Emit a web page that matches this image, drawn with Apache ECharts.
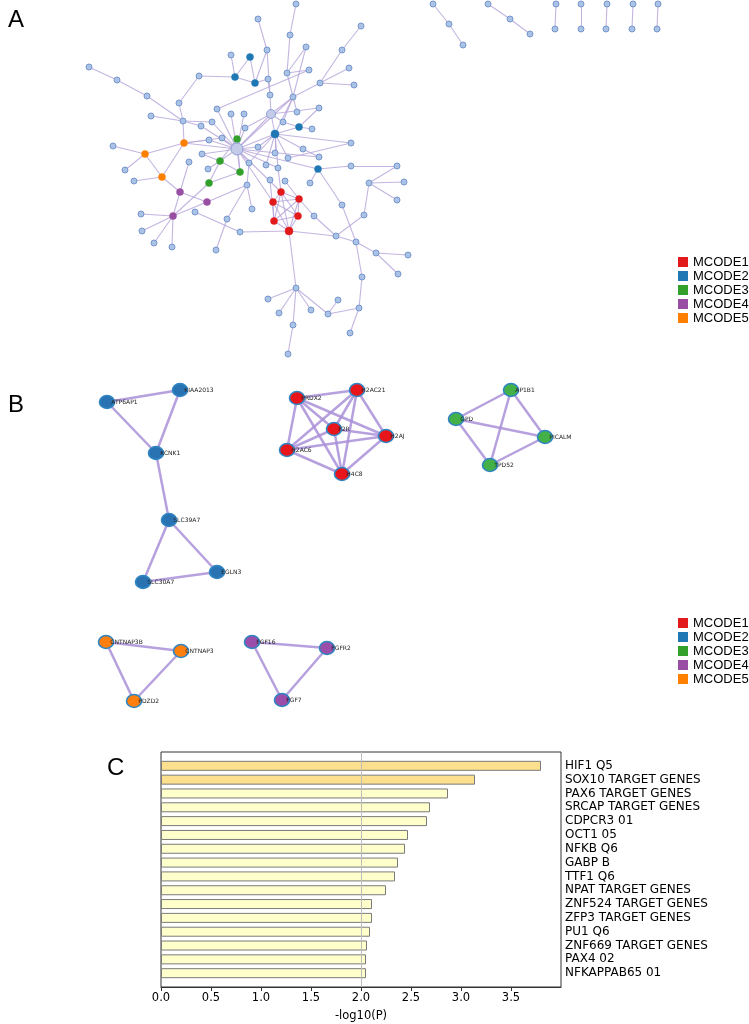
<!DOCTYPE html>
<html><head><meta charset="utf-8">
<script src="https://cdn.jsdelivr.net/npm/echarts@6/dist/echarts.min.js"></script>
<style>html,body{margin:0;padding:0;background:#fff}#c{width:749px;height:1024px}</style>
</head><body><div id="c"></div>
<script>
// ---------- Panel A: network (layout positions in picture units) ----------
const aNodes = [
 [296,4],[258,19],[361,26],[290,35],[231,55],[250,57],[267,50],[306,47],[342,50],[89,67],
 [117,80],[199,76],[235,77],[255,83],[287,73],[309,70],[349,68],[268,79],[320,83],[354,85],
 [147,96],[179,103],[270,95],[293,97],[151,116],[217,109],[231,114],[244,114],[271,114],[297,112],
 [319,108],[183,121],[212,122],[201,126],[283,122],[245,128],[299,127],[312,129],[222,138],[237,139],
 [209,140],[275,134],[113,146],[184,143],[237,149],[258,147],[351,143],[303,149],[145,154],[202,154],
 [275,153],[288,158],[319,157],[220,161],[189,162],[249,163],[266,165],[278,168],[240,172],[318,169],
 [351,166],[397,166],[125,170],[208,169],[162,177],[134,181],[209,183],[270,180],[285,181],[310,183],
 [369,183],[404,182],[247,185],[180,192],[281,192],[273,202],[299,199],[342,205],[397,200],[207,202],
 [252,209],[141,214],[173,216],[195,212],[274,221],[298,216],[314,216],[364,215],[227,219],[289,231],
 [240,232],[142,231],[154,243],[172,247],[216,250],[336,236],[356,242],[376,253],[408,255],[398,274],
 [362,277],[296,288],[268,299],[338,300],[279,313],[311,310],[328,314],[359,308],[293,325],[350,333],
 [288,354],
 [433,4],[449,24],[463,45],[488,4],[510,19],[530,34],
 [556,4],[555,29],[581,4],[581,29],[607,4],[606,29],[633,4],[632,29],[658,4],[657,29]
];
const aEdges = [
 [10,11],[11,21],[21,32],[12,22],[22,32],[12,13],[5,13],[6,13],[6,14],[13,14],[14,18],[2,7],[7,14],[7,23],
 [1,4],[4,15],[15,8],[15,16],[15,24],[3,9],[9,19],[17,19],[20,19],[19,24],[18,23],[23,29],[24,29],[24,42],
 [24,45],[24,35],[29,42],[29,45],[29,36],[30,24],[31,37],[37,38],[37,35],[37,42],[42,45],[42,51],[42,52],
 [42,48],[42,56],[45,26],[45,27],[45,28],[45,33],[45,34],[45,39],[45,40],[45,41],[45,46],[45,50],[45,36],
 [45,44],[45,54],[45,59],[45,56],[45,58],[32,34],[32,44],[32,33],[25,32],[44,49],[44,65],[49,65],[43,49],
 [49,63],[65,66],[65,74],[74,55],[74,80],[74,83],[80,83],[80,73],[83,82],[83,92],[83,93],[83,94],[83,67],
 [40,54],[40,59],[54,59],[54,67],[59,67],[84,91],[91,90],[89,95],[89,73],[81,73],[73,56],[47,52],[53,48],
 [45,53],[42,47],[60,61],[60,45],[60,70],[60,78],[78,97],[62,71],[71,72],[71,79],[71,88],[88,96],[96,90],
 [96,97],[87,77],[87,96],[97,98],[98,99],[98,100],[97,101],[101,108],[108,110],[107,108],[102,107],[104,107],
 [102,103],[102,105],[102,106],[102,109],[109,111],[102,90],[61,62],[44,41],[44,39],[64,54],[57,42],[58,42],
 [75,76],[75,77],[75,85],[75,86],[75,90],[76,77],[76,85],[76,86],[76,90],[77,85],[77,86],[77,90],[85,86],
 [85,90],[86,90],[45,75],[45,76],[58,75],[69,77],[68,85],[35,29],[8,24],[16,26],[31,29],[46,42],[50,54],
 [112,113],[113,114],[115,116],[116,117],[118,119],[120,121],[122,123],[124,125],[126,127]
];
const aMCODE1 = [75,76,77,85,86,90];
const aMCODE2 = [6,13,14,37,42,60];
const aMCODE3 = [40,54,59,67];
const aMCODE4 = [74,80,83];
const aMCODE5 = [44,49,65];
const aHubs = {45: 12, 29: 9, 42: 8, 90: 8};

// ---------- Panel B: MCODE clusters ----------
const bNames = ['ATP6AP1','KIAA2013','KCNK1','SLC39A7','EGLN3','SLC30A7',
 'PRDX2','H2AC21','F2R','H2AJ','H2AC6','H4C8',
 'AP1B1','GPD','PICALM','TPD52',
 'CNTNAP3B','CNTNAP3','PDZD2',
 'FGF16','FGFR2','FGF7'];
const bPos = [[107,402],[180,390],[156,453],[169,520],[217,572],[143,582],
 [297,398],[357,390],[334,429],[386,436],[287,450],[342,474],
 [511,390],[456,419],[545,437],[490,465],
 [106,642],[181,651],[134,701],
 [252,642],[327,648],[282,700]];
const bCluster = [2,2,2,2,2,2, 1,1,1,1,1,1, 3,3,3,3, 5,5,5, 4,4,4];
const bEdges = [
 ['ATP6AP1','KIAA2013'],['ATP6AP1','KCNK1'],['KIAA2013','KCNK1'],['KCNK1','SLC39A7'],
 ['SLC39A7','SLC30A7'],['SLC39A7','EGLN3'],['SLC30A7','EGLN3'],
 ['PRDX2','H2AC21'],['PRDX2','F2R'],['PRDX2','H2AJ'],['PRDX2','H2AC6'],['PRDX2','H4C8'],
 ['H2AC21','F2R'],['H2AC21','H2AJ'],['H2AC21','H2AC6'],['H2AC21','H4C8'],
 ['F2R','H2AJ'],['F2R','H2AC6'],['F2R','H4C8'],['H2AJ','H2AC6'],['H2AJ','H4C8'],['H2AC6','H4C8'],
 ['AP1B1','GPD'],['AP1B1','PICALM'],['AP1B1','TPD52'],['GPD','PICALM'],['GPD','TPD52'],['PICALM','TPD52'],
 ['CNTNAP3B','CNTNAP3'],['CNTNAP3B','PDZD2'],['CNTNAP3','PDZD2'],
 ['FGF16','FGFR2'],['FGF16','FGF7'],['FGFR2','FGF7']
];
const mcodeNames = ['MCODE1','MCODE2','MCODE3','MCODE4','MCODE5'];
const mcodeColors = ['#e31a1c','#1f78b4','#33a02c','#984ea3','#ff7f00'];
const bFill = ['#e8161b','#2a73b3','#44b048','#9b4ea9','#ff7f0e'];

// ---------- Panel C: enrichment bars ----------
const termLabels = ['HIF1 Q5','SOX10 TARGET GENES','PAX6 TARGET GENES','SRCAP TARGET GENES','CDPCR3 01',
 'OCT1 05','NFKB Q6','GABP B','TTF1 Q6','NPAT TARGET GENES','ZNF524 TARGET GENES','ZFP3 TARGET GENES',
 'PU1 Q6','ZNF669 TARGET GENES','PAX4 02','NFKAPPAB65 01'];
const termValues = [3.80,3.14,2.87,2.69,2.66,2.47,2.44,2.37,2.34,2.25,2.11,2.11,2.09,2.06,2.05,2.05];
const xTickStep = 0.5;

// ---------- build ----------
function groupOf(i){
  const lists=[aMCODE1,aMCODE2,aMCODE3,aMCODE4,aMCODE5];
  for(let g=0;g<5;g++) if(lists[g].includes(i)) return g+1;
  return 0;
}
const aData = aNodes.map((p,k)=>{
  const id=k+1, g=groupOf(id);
  const item={name:'a'+id, value:p, category:g, symbolSize: aHubs[id] || (g?7:6)};
  if(id===45||id===29) item.itemStyle={color:'#c4cbe9',borderColor:'#8fa3d6',borderWidth:1};
  return item;
});
const aLinks = aEdges.map(e=>({source:e[0]-1,target:e[1]-1}));
const catA = [{name:'other',itemStyle:{color:'#a9c2e6',borderColor:'#7597cc',borderWidth:1}}]
  .concat(mcodeNames.map((n,i)=>({name:n,itemStyle:{color:mcodeColors[i],borderColor:mcodeColors[i],borderWidth:0.5}})));
const catB = [{name:'other'}].concat(mcodeNames.map((n,i)=>({name:n,itemStyle:{color:bFill[i],borderColor:'#2f86c2',borderWidth:1.5}})));
const bData = bNames.map((n,i)=>({name:n,value:bPos[i],category:bCluster[i]}));
const bLinks = bEdges.map(e=>({source:bNames.indexOf(e[0]),target:bNames.indexOf(e[1])}));

const yCats = [''].concat(termLabels,['']);
const barData = [null].concat(termValues.map((v,i)=>({value:v,itemStyle:{color:i<2?'#fde08e':'#ffffcc'}})),[null]);

const legendCommon = {data:mcodeNames,orient:'vertical',left:678,itemWidth:10,itemHeight:10,itemGap:0,icon:'rect',
  padding:0,selectedMode:false,itemStyle:{borderWidth:0},
  textStyle:{color:'#000',fontSize:13,fontFamily:'Liberation Sans',lineHeight:14}};

const chart = echarts.init(document.getElementById('c'),null,{renderer:'canvas'});
chart.setOption({
  animation:false,
  backgroundColor:'#ffffff',
  grid:[
    {left:0,top:0,width:749,height:1024,show:false},
    {left:161,top:752,width:400,height:235,show:true,borderColor:'#333',borderWidth:1,backgroundColor:'transparent'}
  ],
  xAxis:[
    {gridIndex:0,type:'value',min:0,max:749,show:false},
    {gridIndex:1,type:'value',min:0,max:4,interval:xTickStep,
     axisLine:{show:true,lineStyle:{color:'#333'}},
     axisTick:{show:true,length:4,lineStyle:{color:'#333'}},
     splitLine:{show:false},
     axisLabel:{color:'#000',fontSize:11.5,fontFamily:'DejaVu Sans',margin:5,showMaxLabel:false,
       formatter:v=>v.toFixed(1)},
     name:'-log10(P)',nameLocation:'middle',nameGap:23,
     nameTextStyle:{color:'#000',fontSize:11.5,fontFamily:'DejaVu Sans'}}
  ],
  yAxis:[
    {gridIndex:0,type:'value',min:0,max:1024,inverse:true,show:false},
    {gridIndex:1,type:'category',data:yCats,inverse:true,boundaryGap:false,position:'right',
     axisLine:{show:false},axisTick:{show:false},splitLine:{show:false},
     axisLabel:{color:'#000',fontSize:12,fontFamily:'DejaVu Sans',margin:4,interval:0}}
  ],
  legend:[
    Object.assign({top:255},legendCommon),
    Object.assign({top:616},legendCommon)
  ],
  graphic:[
    {type:'text',left:8,top:8,style:{text:'A',fontSize:24,fontFamily:'Liberation Sans',fill:'#000'}},
    {type:'text',left:8,top:393,style:{text:'B',fontSize:24,fontFamily:'Liberation Sans',fill:'#000'}},
    {type:'text',left:107,top:756,style:{text:'C',fontSize:24,fontFamily:'Liberation Sans',fill:'#000'}}
  ],
  series:[
    {type:'graph',coordinateSystem:'cartesian2d',xAxisIndex:0,yAxisIndex:0,
     data:aData,links:aLinks,categories:catA,symbol:'circle',
     lineStyle:{color:'#b9a8da',width:1.1,opacity:0.85,curveness:0},
     label:{show:false},emphasis:{disabled:true},silent:true,z:2},
    {type:'graph',coordinateSystem:'cartesian2d',xAxisIndex:0,yAxisIndex:0,
     data:bData,links:bLinks,categories:catB,symbol:'circle',symbolSize:[15,13],
     lineStyle:{color:'#a98fd8',width:2.5,opacity:0.85,curveness:0},
     label:{show:true,position:'right',distance:-4,fontSize:6,color:'#222',fontFamily:'DejaVu Sans'},
     emphasis:{disabled:true},silent:true,z:3},
    {type:'bar',xAxisIndex:1,yAxisIndex:1,data:barData,barWidth:10,
     itemStyle:{borderColor:'#7a7a7a',borderWidth:1},
     markLine:{silent:true,symbol:'none',label:{show:false},
       lineStyle:{color:'#bdbdbd',width:1,type:'solid'},data:[{xAxis:2}]},
     z:2}
  ]
});
</script></body></html>
